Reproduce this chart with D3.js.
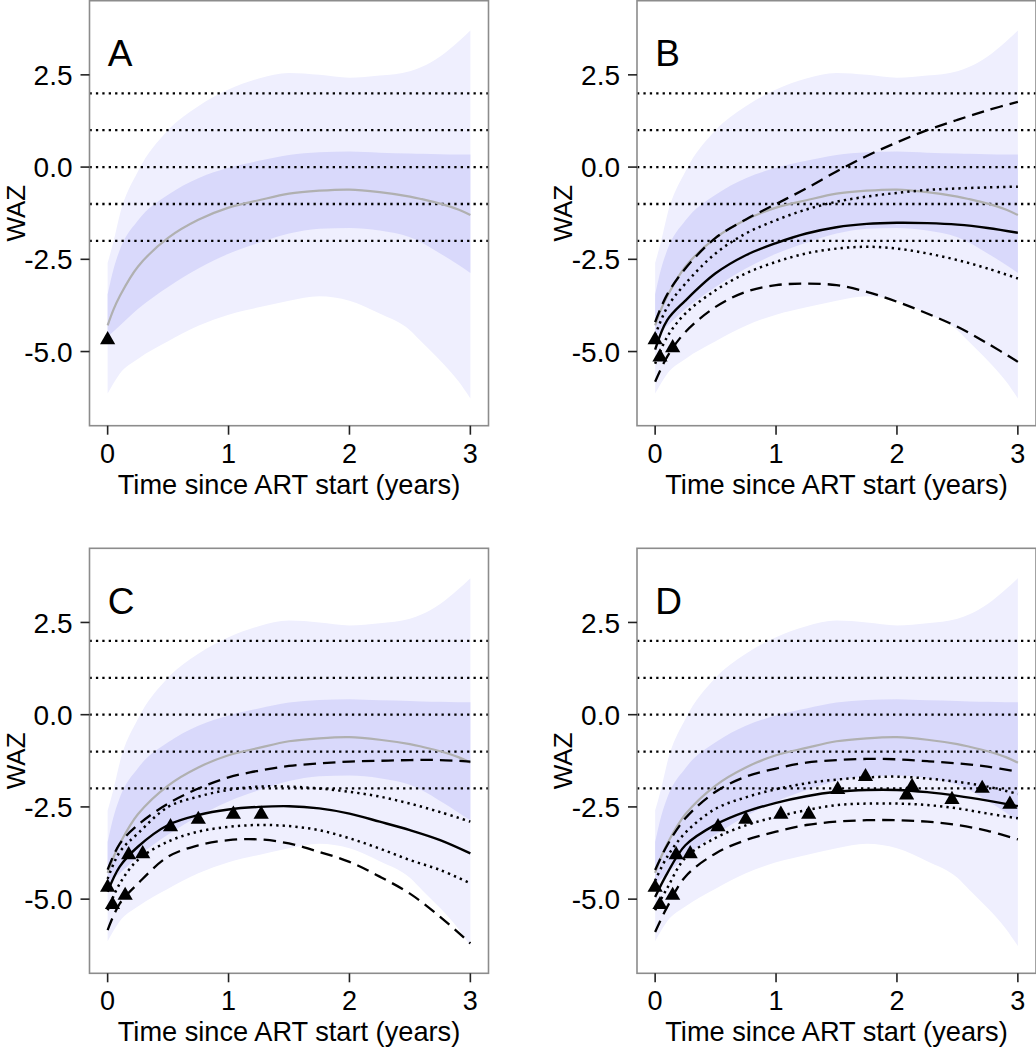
<!DOCTYPE html>
<html>
<head>
<meta charset="utf-8">
<script src="https://cdn.jsdelivr.net/npm/d3@7"></script>
<style>
  body { margin: 0; background: #ffffff; }
  svg { display: block; }
  text { font-family: "Liberation Sans", Arial, Helvetica, sans-serif; fill: #000; }
</style>
</head>
<body>
<svg id="chart" width="1036" height="1050"></svg>
<script>
// ---------------- data ----------------
const panelLabels = ["A", "B", "C", "D"];
const xTicks = [0, 1, 2, 3];
const yTicks = [-5, -2.5, 0, 2.5];
const yTickLabels = ["-5.0", "-2.5", "0.0", "2.5"];
const refLines = [2, 1, 0, -1, -2];
const xTitle = "Time since ART start (years)";
const yTitle = "WAZ";

// reference population bands (same in every panel)
const bandT    = [0, 0.05, 0.1, 0.25, 0.5, 0.75, 1, 1.25, 1.5, 1.75, 2, 2.25, 2.5, 2.6, 2.75, 2.9, 3];
const outerHi  = [-2.6, -2.0, -1.3, -0.12, 1.0, 1.65, 2.1, 2.4, 2.55, 2.5, 2.42, 2.48, 2.6, 2.72, 3.0, 3.4, 3.7];
const innerHi  = [-3.45, -2.75, -2.25, -1.45, -0.75, -0.3, -0.02, 0.17, 0.33, 0.4, 0.42, 0.39, 0.37, 0.36, 0.35, 0.34, 0.34];
const medianV  = [-4.29, -3.85, -3.5, -2.7, -1.92, -1.43, -1.1, -0.9, -0.72, -0.64, -0.61, -0.68, -0.8, -0.87, -0.99, -1.15, -1.3];
const innerLo  = [-4.6, -4.45, -4.3, -3.85, -3.25, -2.75, -2.35, -2.05, -1.8, -1.67, -1.65, -1.72, -1.9, -2.05, -2.34, -2.65, -2.87];
const outerLo  = [-6.14, -5.85, -5.6, -5.2, -4.72, -4.3, -4.0, -3.8, -3.62, -3.5, -3.62, -3.97, -4.42, -4.75, -5.24, -5.8, -6.27];

// observed measurements (triangles); panel A shows 1, B 3, C 9, D all
const obsT = [0, 0.04, 0.145, 0.174, 0.29, 0.52, 0.75, 1.04, 1.27, 1.51, 1.74, 2.08, 2.125, 2.455, 2.705, 2.934];
const obsV = [-4.68, -5.15, -4.9, -3.8, -3.77, -3.04, -2.84, -2.7, -2.7, -2.03, -1.68, -2.18, -1.95, -2.3, -2.0, -2.43];
const obsCount = [1, 3, 9, 16];

// individual predictions
const curveT = [0, 0.1, 0.25, 0.5, 0.75, 1, 1.25, 1.5, 1.75, 2, 2.25, 2.5, 2.75, 3];

const bSolid  = [-4.95, -4.15, -3.62, -2.88, -2.39, -2.06, -1.8, -1.63, -1.54, -1.51, -1.52, -1.56, -1.65, -1.78];
const bDashHi = [-4.2, -3.45, -2.75, -1.92, -1.42, -1.0, -0.58, -0.12, 0.3, 0.67, 1.0, 1.28, 1.54, 1.77];
const bDashLo = [-5.82, -5.14, -4.47, -3.79, -3.38, -3.2, -3.16, -3.2, -3.38, -3.65, -3.97, -4.33, -4.78, -5.28];
const bDotHi  = [-4.56, -3.8, -3.16, -2.34, -1.8, -1.44, -1.15, -0.94, -0.8, -0.7, -0.62, -0.58, -0.55, -0.53];
const bDotLo  = [-5.33, -4.6, -3.97, -3.34, -2.88, -2.57, -2.34, -2.21, -2.16, -2.21, -2.34, -2.52, -2.75, -3.02];

const cSolid  = [-4.8, -4.12, -3.58, -2.99, -2.72, -2.57, -2.5, -2.48, -2.54, -2.68, -2.9, -3.13, -3.4, -3.76];
const cDashHi = [-4.2, -3.5, -2.99, -2.41, -2.0, -1.7, -1.52, -1.39, -1.32, -1.27, -1.25, -1.23, -1.23, -1.27];
const cDashLo = [-5.84, -5.12, -4.58, -3.85, -3.54, -3.4, -3.38, -3.49, -3.72, -3.99, -4.39, -4.85, -5.48, -6.2];
const cDotHi  = [-4.45, -3.72, -3.22, -2.5, -2.22, -2.04, -1.95, -1.95, -2.0, -2.09, -2.22, -2.41, -2.64, -2.9];
const cDotLo  = [-5.3, -4.58, -3.94, -3.44, -3.17, -3.04, -2.99, -3.02, -3.13, -3.35, -3.63, -3.94, -4.21, -4.57];

const dSolid  = [-4.94, -4.3, -3.54, -2.98, -2.63, -2.39, -2.21, -2.09, -2.04, -2.04, -2.1, -2.2, -2.33, -2.48];
const dDashHi = [-4.21, -3.54, -2.81, -2.09, -1.68, -1.46, -1.3, -1.23, -1.2, -1.21, -1.26, -1.32, -1.41, -1.55];
const dDashLo = [-5.89, -5.21, -4.39, -3.76, -3.4, -3.17, -2.99, -2.9, -2.86, -2.86, -2.9, -2.99, -3.15, -3.38];
const dDotHi  = [-4.5, -3.85, -3.2, -2.55, -2.24, -2.02, -1.86, -1.76, -1.7, -1.68, -1.73, -1.82, -1.95, -2.15];
const dDotLo  = [-5.3, -4.7, -3.88, -3.34, -3.0, -2.77, -2.59, -2.45, -2.41, -2.41, -2.45, -2.54, -2.68, -2.81];

// ---------------- build ----------------
const panelFits = [
  null,
  { solid: bSolid, dashHi: bDashHi, dashLo: bDashLo, dotHi: bDotHi, dotLo: bDotLo },
  { solid: cSolid, dashHi: cDashHi, dashLo: cDashLo, dotHi: cDotHi, dotLo: cDotLo },
  { solid: dSolid, dashHi: dDashHi, dashLo: dDashLo, dotHi: dDotHi, dotLo: dDotLo }
];

const svg = d3.select("#chart");
const W = 399, H = 425;
const lefts = [89.5, 637];
const tops = [0.7, 548.3];
const xDomain = [-0.15, 3.15];
const yDomain = [-7.01, 4.51];

const DOT = "2.3 4.1";
const DASH = "12.5 7";

const bandRows = bandT.map((t, i) => ({ t, oh: outerHi[i], ol: outerLo[i], ih: innerHi[i], il: innerLo[i], m: medianV[i] }));

panelLabels.forEach((lab, p) => {
  const left = lefts[p % 2], top = tops[Math.floor(p / 2)];
  const x = d3.scaleLinear().domain(xDomain).range([left, left + W]);
  const y = d3.scaleLinear().domain(yDomain).range([top + H, top]);
  const g = svg.append("g");

  const clipId = "clip" + p;
  svg.append("clipPath").attr("id", clipId)
    .append("rect").attr("x", left).attr("y", top).attr("width", W).attr("height", H);
  const plot = g.append("g").attr("clip-path", `url(#${clipId})`);

  // bands
  const area = (hi, lo) => d3.area().x(d => x(d.t)).y0(d => y(d[lo])).y1(d => y(d[hi])).curve(d3.curveMonotoneX);
  plot.append("path").datum(bandRows).attr("d", area("oh", "ol")).attr("fill", "#EFEFFE");
  plot.append("path").datum(bandRows).attr("d", area("ih", "il")).attr("fill", "#D9D9FB");

  // reference dotted lines
  plot.selectAll("line.ref").data(refLines).join("line")
    .attr("x1", left).attr("x2", left + W)
    .attr("y1", d => y(d)).attr("y2", d => y(d))
    .attr("stroke", "#000").attr("stroke-width", 2.3).attr("stroke-dasharray", DOT);

  // median reference line
  const lineM = d3.line().x(d => x(d.t)).y(d => y(d.m)).curve(d3.curveCatmullRom.alpha(0.5));
  plot.append("path").datum(bandRows).attr("d", lineM)
    .attr("fill", "none").attr("stroke", "#B0B0B0").attr("stroke-width", 2.2);

  // fitted curves
  const fit = panelFits[p];
  if (fit) {
    const mk = arr => curveT.map((t, i) => ({ t, v: arr[i] }));
    const line = d3.line().x(d => x(d.t)).y(d => y(d.v)).curve(d3.curveCatmullRom.alpha(0.5));
    const styles = [
      [fit.dashHi, DASH, 2.3], [fit.dashLo, DASH, 2.3],
      [fit.dotHi, DOT, 2.5], [fit.dotLo, DOT, 2.5],
      [fit.solid, null, 2.4]
    ];
    styles.forEach(([arr, dash, sw]) => {
      const path = plot.append("path").datum(mk(arr)).attr("d", line)
        .attr("fill", "none").attr("stroke", "#000").attr("stroke-width", sw);
      if (dash) path.attr("stroke-dasharray", dash);
    });
  }

  // observations
  const obs = obsT.slice(0, obsCount[p]).map((t, i) => ({ t, v: obsV[i] }));
  plot.selectAll("path.obs").data(obs).join("path")
    .attr("d", d3.symbol(d3.symbolTriangle, 100))
    .attr("transform", d => `translate(${x(d.t)},${y(d.v)})`)
    .attr("fill", "#000");

  // border
  g.append("rect").attr("x", left).attr("y", top).attr("width", W).attr("height", H)
    .attr("fill", "none").attr("stroke", "#8C8C8C").attr("stroke-width", 1.6);

  // x axis ticks & labels
  g.selectAll("line.xt").data(xTicks).join("line")
    .attr("x1", d => x(d)).attr("x2", d => x(d))
    .attr("y1", top + H).attr("y2", top + H + 9)
    .attr("stroke", "#222").attr("stroke-width", 1.6);
  g.selectAll("text.xl").data(xTicks).join("text")
    .attr("x", d => x(d)).attr("y", top + H + 37)
    .attr("text-anchor", "middle").attr("font-size", 27)
    .text(d => d);
  g.append("text").attr("x", left + W / 2).attr("y", top + H + 68)
    .attr("text-anchor", "middle").attr("font-size", 27.2).text(xTitle);

  // y axis ticks & labels
  g.selectAll("line.yt").data(yTicks).join("line")
    .attr("x1", left - 9).attr("x2", left)
    .attr("y1", d => y(d)).attr("y2", d => y(d))
    .attr("stroke", "#222").attr("stroke-width", 1.6);
  g.selectAll("text.yl").data(yTicks).join("text")
    .attr("x", left - 17).attr("y", d => y(d)).attr("dy", "0.36em")
    .attr("text-anchor", "end").attr("font-size", 28)
    .text((d, i) => yTickLabels[i]);
  g.append("text")
    .attr("transform", `translate(${left - 65},${top + H / 2}) rotate(-90)`)
    .attr("text-anchor", "middle").attr("font-size", 26).text(yTitle);

  // panel letter
  g.append("text").attr("x", x(0)).attr("y", y(3.1)).attr("dy", "0.36em")
    .attr("font-size", 37).text(lab);
});
</script>
</body>
</html>
